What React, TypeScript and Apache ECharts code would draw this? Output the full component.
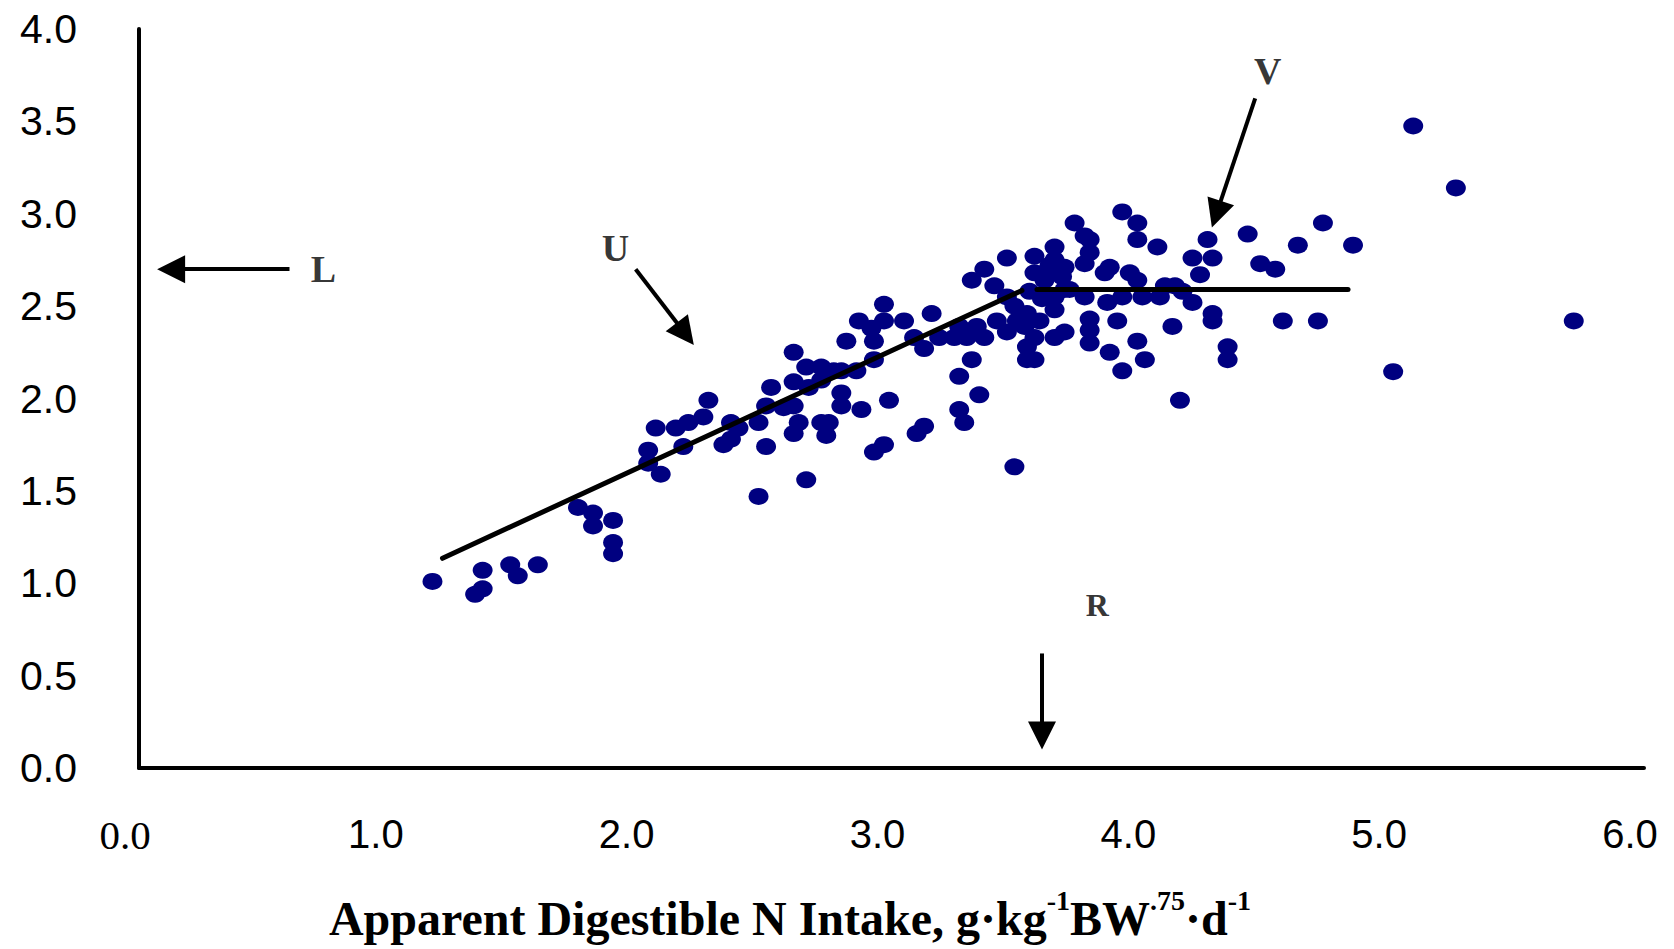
import React, { useEffect, useRef } from "react";
import * as echarts from "echarts";

// Observations: apparent digestible N intake (x) vs N retention (y)
const obsLow: [number, number][] = [
  [1.17, 1.01], [1.37, 1.07], [1.37, 0.97], [1.34, 0.94], [1.48, 1.1], [1.51, 1.04], [1.59, 1.1],
  [1.75, 1.41], [1.81, 1.38], [1.81, 1.31], [1.89, 1.34], [1.89, 1.22], [1.89, 1.16],
  [2.03, 1.72], [2.03, 1.65], [2.08, 1.59], [2.06, 1.84], [2.14, 1.84], [2.17, 1.74], [2.19, 1.87],
  [2.25, 1.9], [2.27, 1.99], [2.33, 1.75], [2.36, 1.87], [2.39, 1.84], [2.36, 1.78], [2.47, 1.87],
  [2.5, 1.74], [2.47, 1.47], [2.52, 2.06], [2.5, 1.96],
];
const obsMid: [number, number][] = [
  [2.57, 1.95], [2.61, 2.25], [2.61, 2.09], [2.61, 1.96], [2.61, 1.81], [2.63, 1.87], [2.66, 2.17],
  [2.67, 2.06], [2.66, 1.56], [2.72, 2.17], [2.72, 2.1], [2.72, 1.87], [2.74, 1.8], [2.75, 1.87],
  [2.77, 2.15], [2.8, 2.15], [2.8, 2.03], [2.8, 1.96], [2.86, 2.15], [2.82, 2.31], [2.87, 2.42],
  [2.88, 1.94], [2.93, 1.71], [2.97, 1.75], [2.97, 2.51], [2.97, 2.42], [2.92, 2.38], [2.93, 2.31],
  [2.93, 2.21], [2.99, 1.99], [3.05, 2.42], [3.09, 2.33], [3.13, 2.27], [3.1, 1.81], [3.13, 1.85],
  [3.16, 2.46], [3.19, 2.33], [3.25, 2.33], [3.27, 2.39], [3.3, 2.33], [3.27, 2.12], [3.27, 1.94],
  [3.29, 1.87], [3.32, 2.21], [3.34, 2.39], [3.37, 2.33], [3.35, 2.02],
];
const obsBreak: [number, number][] = [
  [3.32, 2.64], [3.37, 2.7], [3.41, 2.61], [3.46, 2.76], [3.46, 2.55], [3.49, 2.5], [3.42, 2.42],
  [3.46, 2.36], [3.5, 2.42], [3.54, 2.46], [3.53, 2.39], [3.57, 2.77], [3.57, 2.68], [3.55, 2.58],
  [3.59, 2.42], [3.57, 2.33], [3.54, 2.28], [3.54, 2.21], [3.57, 2.21], [3.61, 2.68], [3.6, 2.54],
  [3.65, 2.82], [3.65, 2.75], [3.69, 2.71], [3.68, 2.66], [3.63, 2.72], [3.61, 2.64], [3.65, 2.55],
  [3.65, 2.48], [3.69, 2.59], [3.71, 2.59], [3.77, 2.55], [3.69, 2.36], [3.65, 2.33], [3.49, 1.63],
];
const obsHigh: [number, number][] = [
  [3.73, 2.95], [3.77, 2.88], [3.79, 2.86], [3.79, 2.79], [3.77, 2.73], [3.85, 2.68], [3.87, 2.71],
  [3.86, 2.52], [3.79, 2.43], [3.79, 2.37], [3.79, 2.3], [3.9, 2.42], [3.87, 2.25], [3.92, 2.15],
  [3.92, 3.01], [3.98, 2.95], [3.98, 2.86], [4.06, 2.82], [3.95, 2.68], [3.98, 2.64], [3.92, 2.55],
  [4.0, 2.55], [4.07, 2.55], [4.09, 2.61], [3.98, 2.31], [4.01, 2.21], [4.12, 2.39], [4.13, 2.61],
  [4.16, 2.58], [4.2, 2.52], [4.26, 2.86], [4.2, 2.76], [4.28, 2.76], [4.23, 2.67], [4.28, 2.46],
  [4.28, 2.42], [4.34, 2.28], [4.34, 2.21], [4.15, 1.99], [4.42, 2.89], [4.47, 2.73], [4.53, 2.7],
  [4.62, 2.83], [4.72, 2.95], [4.84, 2.83], [4.56, 2.42], [4.7, 2.42], [5.08, 3.475], [5.25, 3.14],
  [5.0, 2.145], [5.72, 2.42],
];

// Broken-line fit
const risingLine: [number, number][] = [[1.21, 1.135], [3.52, 2.585]];
const plateauLine: [number, number][] = [[3.58, 2.59], [4.82, 2.59]];

// Axis ranges
const xRange = { min: 0, max: 6, interval: 1 };
const yRange = { min: 0, max: 4, interval: 0.5 };

// Annotation arrows (data coordinates) and letters
const arrowSegments: [number, number][][] = [
  [[0.6, 2.7], [0.128, 2.7]],
  [[1.98, 2.7], [2.178, 2.35]],
  [[4.45, 3.625], [4.295, 2.998]],
  [[3.6, 0.62], [3.6, 0.176]],
];
const annotationLetters = [
  { name: "L", value: [0.735, 2.7], size: 38 },
  { name: "U", value: [1.9, 2.815], size: 38 },
  { name: "V", value: [4.5, 3.77], size: 38 },
  { name: "R", value: [3.82, 0.88], size: 32 },
];

const SERIF = "'Liberation Serif', 'Times New Roman', serif";
const SANS = "'Liberation Sans', Arial, sans-serif";

export default function App() {
  const ref = useRef<HTMLDivElement>(null);

  useEffect(() => {
    if (!ref.current) return;
    const chart = echarts.init(ref.current, null, { renderer: "svg" });
    const allObs = [...obsLow, ...obsMid, ...obsBreak, ...obsHigh];

    chart.setOption({
      animation: false,
      backgroundColor: "#ffffff",
      grid: { left: 139, right: 30, top: 29, bottom: 181, containLabel: false },
      xAxis: {
        type: "value",
        min: xRange.min,
        max: xRange.max,
        interval: xRange.interval,
        axisLine: { show: true, onZero: false, lineStyle: { color: "#000", width: 4 } },
        axisTick: { show: false },
        splitLine: { show: false },
        axisLabel: {
          margin: 46,
          padding: [0, 28, 0, 0],
          formatter: (v: number) => (v === 0 ? "{s|0.0}" : "{n|" + v.toFixed(1) + "}"),
          rich: {
            s: { fontFamily: SERIF, fontSize: 41, color: "#000" },
            n: { fontFamily: SANS, fontSize: 40, color: "#000" },
          },
        },
      },
      yAxis: {
        type: "value",
        min: yRange.min,
        max: yRange.max,
        interval: yRange.interval,
        axisLine: { show: true, onZero: false, lineStyle: { color: "#000", width: 4 } },
        axisTick: { show: false },
        splitLine: { show: false },
        axisLabel: {
          margin: 62,
          fontFamily: SANS,
          fontSize: 41,
          color: "#000",
          formatter: (v: number) => v.toFixed(1),
        },
      },
      graphic: [
        {
          type: "text",
          x: 790,
          y: 914,
          style: {
            text:
              "{a|Apparent Digestible N Intake, g·kg}{s|-1}{a|BW}{s|.75}{a|·d}{s|-1}",
            align: "center",
            verticalAlign: "middle",
            rich: {
              a: { fontFamily: SERIF, fontWeight: "bold", fontSize: 48, lineHeight: 56, fill: "#000", verticalAlign: "bottom" },
              s: { fontFamily: SERIF, fontWeight: "bold", fontSize: 28, lineHeight: 28, fill: "#000", verticalAlign: "top" },
            },
          },
        },
      ],
      series: [
        {
          type: "scatter",
          data: allObs,
          symbol: "circle",
          symbolSize: [20, 17],
          itemStyle: { color: "#000080", opacity: 1 },
          z: 2,
        },
        {
          type: "line",
          data: risingLine,
          symbol: "none",
          lineStyle: { color: "#000", width: 5, cap: "round" },
          z: 3,
        },
        {
          type: "line",
          data: plateauLine,
          symbol: "none",
          lineStyle: { color: "#000", width: 5, cap: "round" },
          z: 3,
        },
        {
          type: "lines",
          coordinateSystem: "cartesian2d",
          data: arrowSegments.map((c) => ({ coords: c })),
          symbol: ["none", "triangle"],
          symbolSize: [26, 28],
          lineStyle: { color: "#000", width: 4, opacity: 1 },
          itemStyle: { color: "#000" },
          z: 4,
        },
        {
          type: "scatter",
          data: annotationLetters.map((a) => ({
            name: a.name,
            value: a.value,
            label: { fontSize: a.size },
          })),
          symbolSize: 0,
          label: {
            show: true,
            position: "inside",
            formatter: (p: any) => p.name,
            fontFamily: SERIF,
            fontWeight: "bold",
            color: "#000",
          },
          z: 5,
        },
      ],
    });

    return () => chart.dispose();
  }, []);

  return (
    <div
      ref={ref}
      style={{ position: "fixed", left: 0, top: 0, width: 1674, height: 949, background: "#fff" }}
    />
  );
}
